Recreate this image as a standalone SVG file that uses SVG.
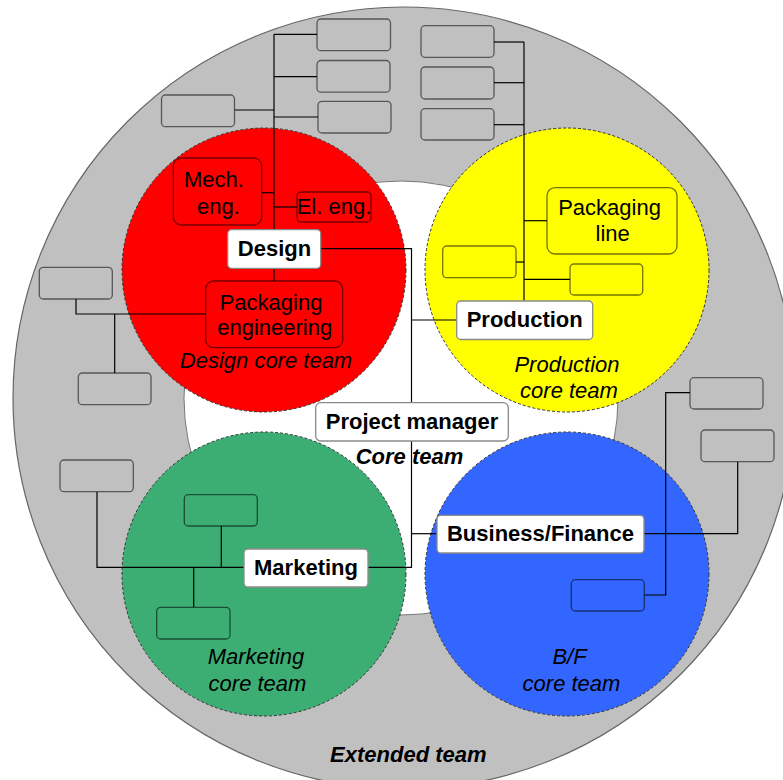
<svg xmlns="http://www.w3.org/2000/svg" width="783" height="780" viewBox="0 0 783 780">
<style>
text{font-family:"Liberation Sans",Arial,sans-serif;font-size:22px;text-anchor:middle;fill:#000}
.b{font-weight:bold}
.i{font-style:italic}
.bi{font-weight:bold;font-style:italic}
.bx{stroke:#000;stroke-opacity:0.55;stroke-width:1.3}
.g{fill:#c0c0c0}
.lbl{fill:#fff;stroke:#8a8a8a;stroke-width:1.3}
.core{stroke:#333;stroke-width:1;stroke-dasharray:3 2}
#connectors line,#connectors polyline{stroke:#000;stroke-width:1.2;fill:none}
</style>
<rect width="783" height="780" fill="#fff"/>
<g id="extended-team">
<circle cx="404" cy="398" r="391" fill="#c0c0c0" stroke="#666" stroke-width="1.2"/>
</g>
<g id="core-team">
<circle cx="401" cy="398" r="217" fill="#fff" stroke="#777" stroke-width="1"/>
</g>
<g id="design-circle"><circle class="core" cx="264" cy="270" r="142" fill="#ff0000"/></g>
<g id="production-circle"><circle class="core" cx="567" cy="270" r="142" fill="#ffff00"/></g>
<g id="marketing-circle"><circle class="core" cx="264" cy="574" r="142" fill="#3cae74"/></g>
<g id="bf-circle"><circle class="core" cx="567" cy="574" r="142" fill="#3366ff"/></g>

<g id="connectors">
<line x1="274" y1="34.3" x2="274" y2="230"/>
<line x1="274" y1="34.3" x2="317" y2="34.3"/>
<line x1="274" y1="76.7" x2="317" y2="76.7"/>
<line x1="274" y1="117" x2="318" y2="117"/>
<line x1="234.5" y1="110" x2="274" y2="110"/>
<line x1="262" y1="192.7" x2="274" y2="192.7"/>
<line x1="274" y1="207" x2="297" y2="207"/>
<line x1="274" y1="268" x2="274" y2="281"/>
<polyline points="76,299 76,314 205.7,314"/>
<line x1="114.7" y1="314" x2="114.7" y2="373"/>
<line x1="524" y1="42" x2="524" y2="301"/>
<line x1="494" y1="42" x2="524" y2="42"/>
<line x1="494" y1="82.7" x2="524" y2="82.7"/>
<line x1="494" y1="124.7" x2="524" y2="124.7"/>
<line x1="524" y1="220.7" x2="547" y2="220.7"/>
<line x1="516" y1="262" x2="524" y2="262"/>
<line x1="524" y1="279.3" x2="570" y2="279.3"/>
<polyline points="320.7,248.7 411.5,248.7 411.5,567.3 368,567.3"/>
<line x1="411.5" y1="320" x2="456.7" y2="320"/>
<line x1="411.5" y1="533.7" x2="437" y2="533.7"/>
<polyline points="644,533.7 737.7,533.7 737.7,461.7"/>
<polyline points="690,392.7 665.7,392.7 665.7,595 644.3,595"/>
<polyline points="97,491.7 97,567.3 244,567.3"/>
<line x1="221.3" y1="526" x2="221.3" y2="567.3"/>
<line x1="193.7" y1="567.3" x2="193.7" y2="607.3"/>
</g>

<g id="d-ext-1"><rect class="bx g" x="317" y="19" width="73.5" height="31.7" rx="4"/></g>
<g id="d-ext-2"><rect class="bx g" x="317" y="60.5" width="73" height="31.7" rx="4"/></g>
<g id="d-ext-3"><rect class="bx g" x="318" y="101.3" width="73" height="31.7" rx="4"/></g>
<g id="d-ext-4"><rect class="bx g" x="161.5" y="95" width="73" height="31.7" rx="4"/></g>
<g id="mech-eng"><rect class="bx" fill="#ff0000" x="173.3" y="158" width="88.4" height="67" rx="8"/>
<text x="214" y="187">Mech.</text><text x="218.5" y="213.5">eng.</text></g>
<g id="el-eng"><rect class="bx" fill="#ff0000" x="297" y="192" width="74" height="30" rx="4"/>
<text x="334" y="213.5">El. eng.</text></g>
<g id="pack-eng"><rect class="bx" fill="#ff0000" x="205.7" y="281" width="137" height="66.7" rx="8"/>
<text x="271" y="310">Packaging</text><text x="274.7" y="335">engineering</text></g>
<g id="design"><rect class="lbl" x="227.7" y="229.7" width="93" height="38.6" rx="4"/>
<text class="b" x="274.5" y="256">Design</text></g>
<g id="d-ext-5"><rect class="bx g" x="39.3" y="267.3" width="73" height="31.7" rx="4"/></g>
<g id="d-ext-6"><rect class="bx g" x="78.3" y="373" width="72.7" height="31.7" rx="4"/></g>
<text class="i" x="266" y="368">Design core team</text>

<g id="p-ext-1"><rect class="bx g" x="421" y="25.7" width="73" height="31.6" rx="4"/></g>
<g id="p-ext-2"><rect class="bx g" x="421" y="67" width="73" height="32" rx="4"/></g>
<g id="p-ext-3"><rect class="bx g" x="421" y="108.7" width="73" height="31.3" rx="4"/></g>
<g id="pack-line"><rect class="bx" fill="#ffff00" x="547" y="187.7" width="130" height="66.3" rx="8"/>
<text x="609.5" y="215">Packaging</text><text x="612.7" y="240.7">line</text></g>
<g id="p-core-1"><rect class="bx" fill="#ffff00" x="442.7" y="246" width="73.3" height="31.7" rx="4"/></g>
<g id="p-core-2"><rect class="bx" fill="#ffff00" x="570" y="264" width="72.7" height="31" rx="4"/></g>
<g id="production"><rect class="lbl" x="456.7" y="301" width="136" height="38.5" rx="4"/>
<text class="b" x="524.7" y="327.3">Production</text></g>
<text class="i" x="567" y="372.3">Production</text>
<text class="i" x="569" y="398.3">core team</text>

<g id="project-manager"><rect class="lbl" x="315.7" y="402.7" width="192.6" height="38.3" rx="5"/>
<text class="b" x="412" y="429">Project manager</text></g>
<text class="bi" x="409.5" y="464">Core team</text>

<g id="bf-ext-1"><rect class="bx g" x="690" y="377.7" width="73" height="31.3" rx="4"/></g>
<g id="bf-ext-2"><rect class="bx g" x="701" y="430" width="73" height="31.7" rx="4"/></g>
<g id="bf-core-1"><rect class="bx" fill="#3366ff" x="571.3" y="579.7" width="73" height="31.3" rx="4"/></g>
<g id="business-finance"><rect class="lbl" x="437" y="515.3" width="207" height="37.7" rx="4"/>
<text class="b" x="540.5" y="541">Business/Finance</text></g>
<text class="i" x="569.5" y="664">B/F</text>
<text class="i" x="571.5" y="691">core team</text>

<g id="m-ext-1"><rect class="bx g" x="60" y="460" width="73.3" height="31.7" rx="4"/></g>
<g id="m-core-1"><rect class="bx" fill="#3cae74" x="184.3" y="494.7" width="73" height="31.3" rx="4"/></g>
<g id="m-core-2"><rect class="bx" fill="#3cae74" x="156.7" y="607.3" width="73.3" height="31.7" rx="4"/></g>
<g id="marketing"><rect class="lbl" x="244" y="549" width="124" height="38" rx="4"/>
<text class="b" x="306" y="575">Marketing</text></g>
<text class="i" x="256" y="664">Marketing</text>
<text class="i" x="257.5" y="691">core team</text>

<text class="bi" x="408.3" y="761.7">Extended team</text>
</svg>
